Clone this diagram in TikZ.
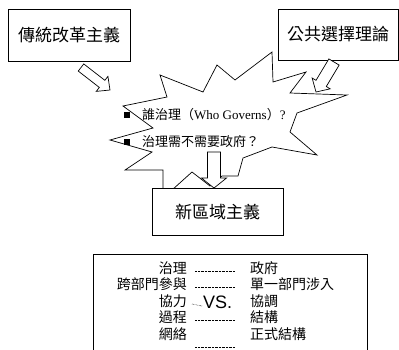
\documentclass[tikz,border=0pt]{standalone}
\usepackage{fontspec}
\usepackage{tikz}
\usetikzlibrary{calc}

\newfontfamily\cjk{Noto Sans CJK TC}
\newfontfamily\latinserif{Liberation Serif}
\newfontfamily\vsfont{Liberation Sans}

\tikzset{
  titlebox/.style={draw, fill=white, rectangle, inner sep=0pt, line width=0.7pt,
    font=\cjk\fontsize{17}{20}\selectfont},
  blockarr/.style={draw, fill=white, line width=0.7pt, line join=miter},
  itemtext/.style={anchor=west, inner sep=0pt, font=\cjk\fontsize{13}{16}\selectfont},
  cmptext/.style={inner sep=0pt, font=\cjk\fontsize{14}{16}\selectfont},
  leaders/.style={line width=0.6pt, dash pattern=on 0.5pt off 0.9pt},
}

% hollow block arrow: tail, tip, half shaft, half head, head length
\newcommand{\hollowarrow}[5]{%
  \coordinate (hb) at ($(#2)!#5!(#1)$);
  \draw[blockarr] ($(#1)!#3!90:(#2)$) -- ($(hb)!#3!90:(#2)$) -- ($(hb)!#4!90:(#2)$)
    -- (#2) -- ($(hb)!#4!-90:(#2)$) -- ($(hb)!#3!-90:(#2)$) -- ($(#1)!#3!-90:(#2)$) -- cycle;
}

\begin{document}
\begin{tikzpicture}[x=1pt,y=-1pt]
 \useasboundingbox (0,0) rectangle (399,349);

 % the burst
 \draw[fill=white, line width=0.7pt, line join=miter]
   (123,106) -- (167,97) -- (160,75) -- (203,92) -- (217,65) -- (235,80)
   -- (272,52) -- (273,82) -- (306,72) -- (290,93) -- (347,95) -- (297,113)
   -- (290,132) -- (317,155) -- (272,147) -- (243,158) -- (238,176) -- (222,176)
   -- (210,186) -- (192,172) -- (172,190) -- (163,190) -- (163,170) -- (125,170)
   -- (152,152) -- (110,140) -- (153,128) -- cycle;

 % the two questions
 \node[fill, inner sep=0pt, minimum size=6pt] (b1) at (127,115) {};
 \node[itemtext] (q1) at (142,115) {誰治理（{\latinserif Who Governs}）{\latinserif ?}};
 \node[fill, inner sep=0pt, minimum size=6pt] (b2) at (127,142) {};
 \node[itemtext] (q2) at (142,142) {治理需不需要政府？};

 % boxes
 \node[titlebox, minimum width=122pt, minimum height=52pt] (trad) at (69,35) {傳統改革主義};
 \node[titlebox, minimum width=120pt, minimum height=51pt] (pub) at (338,34.5) {公共選擇理論};
 \node[titlebox, minimum width=131pt, minimum height=47pt] (newreg) at (217.5,211.5) {新區域主義};

 % hollow arrows
 \coordinate (t1) at (81,67.5);  \coordinate (h1) at (110,90);
 \coordinate (t2) at (334,62);   \coordinate (h2) at (316,92);
 \coordinate (t3) at (214,152);  \coordinate (h3) at (214,188);
 \hollowarrow{t1}{h1}{4.5pt}{9.5pt}{10pt}
 \hollowarrow{t2}{h2}{6pt}{10.5pt}{10pt}
 \hollowarrow{t3}{h3}{6.5pt}{12.5pt}{10pt}

 % comparison table
 \node[draw, line width=0.7pt, anchor=north west, minimum width=274pt, minimum height=110pt,
   inner sep=0pt] (cmp) at (93,254) {};
 \foreach \lt/\rt/\yy [count=\i] in {治理/政府/268, 跨部門參與/單一部門涉入/284,
     協力/協調/301, 過程/結構/317, 網絡/正式結構/334} {
   \node[cmptext, anchor=east] (left\i) at (187,\yy) {\lt};
   \node[cmptext, anchor=west] (right\i) at (250,\yy) {\rt};
 }
 \node[inner sep=0pt, anchor=west, font=\vsfont\fontsize{18}{20}\selectfont] (vs) at (203,302) {VS.};
 \draw[leaders] ($(left1.east)+(8,3)$) -- ($(right1.west)+(-15,3)$);
 \draw[leaders] ($(left2.east)+(8,3)$) -- ($(right2.west)+(-15,3)$);
 \draw[leaders] ($(left3.east)+(5,3)$) -- ($(vs.west)+(-1,4)$);
 \draw[leaders] ($(left4.east)+(8,3)$) -- ($(right4.west)+(-15,3)$);
 \draw[leaders] ($(left5.east)+(8,13)$) -- ($(right5.west)+(-15,13)$);
\end{tikzpicture}
\end{document}
